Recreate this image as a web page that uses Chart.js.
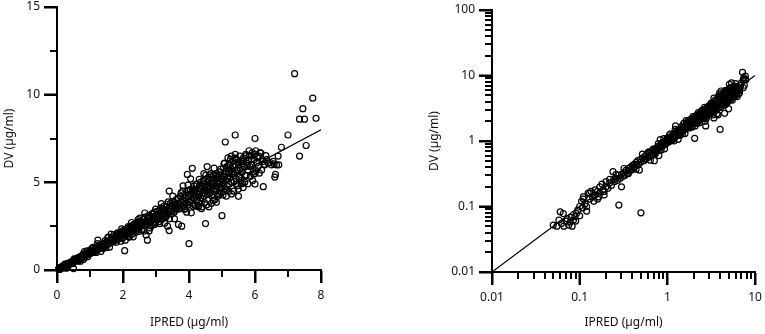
<!DOCTYPE html>
<html>
<head>
<meta charset="utf-8">
<script src="https://cdn.jsdelivr.net/npm/chart.js@4/dist/chart.umd.min.js"></script>
<style>
  html, body { margin: 0; padding: 0; background: #fff; }
  #wrap { position: relative; width: 765px; height: 334px; }
  canvas { position: absolute; top: 0; }
  #note { position: absolute; left: 342px; top: 120px; width: 56px; font: 9px sans-serif; color: #c00; }
</style>
</head>
<body>
<div id="wrap">
  <canvas id="linChart" width="340" height="334" style="left:0"></canvas>
  <canvas id="logChart" width="365" height="334" style="left:400px"></canvas>
  <canvas id="linTicks" width="340" height="334" style="left:0"></canvas>
  <canvas id="logTicks" width="365" height="334" style="left:400px"></canvas>
  <div id="note"></div>
</div>
<script>
const ipred = [
  0.05,0.055,0.058,0.06,0.062,0.065,0.066,0.07,0.072,0.075,
  0.078,0.08,0.082,0.085,0.088,0.09,0.092,0.095,0.1,0.1,
  0.105,0.108,0.11,0.115,0.12,0.125,0.13,0.135,0.14,0.145,
  0.15,0.16,0.165,0.17,0.18,0.185,0.19,0.2,0.21,0.22,
  0.23,0.24,0.245,0.25,0.26,0.27,0.28,0.28,0.29,0.3,
  0.3,0.31,0.32,0.33,0.34,0.35,0.36,0.37,0.38,0.39,
  0.4,0.41,0.42,0.43,0.44,0.45,0.46,0.47,0.48,0.49,
  0.5,0.5,0.52,0.54,0.55,0.57,0.58,0.6,0.62,0.63,
  0.65,0.66,0.68,0.7,0.71,0.72,0.74,0.75,0.77,0.78,
  0.8,0.8,0.82,0.83,0.84,0.86,0.88,0.9,0.92,0.94,
  0.95,0.97,0.98,1.0,1.02,1.04,1.05,1.07,1.08,1.1,
  1.12,1.14,1.15,1.17,1.18,1.2,1.22,1.24,1.25,1.27,
  1.28,1.3,1.32,1.34,1.35,1.37,1.38,1.4,1.42,1.44,
  1.45,1.47,1.48,1.5,1.52,1.54,1.55,1.57,1.58,1.6,
  1.62,1.64,1.65,1.67,1.68,1.7,1.72,1.74,1.75,1.77,
  1.78,1.8,1.82,1.84,1.85,1.87,1.88,1.9,1.92,1.94,
  1.95,1.97,1.98,2.0,2.02,2.04,2.05,2.06,2.08,2.1,
  2.12,2.14,2.15,2.17,2.18,2.2,2.22,2.24,2.25,2.27,
  2.28,2.3,2.32,2.34,2.35,2.37,2.38,2.4,2.42,2.44,
  2.45,2.47,2.48,2.5,2.52,2.54,2.55,2.57,2.58,2.6,
  2.62,2.64,2.65,2.67,2.7,2.72,2.74,2.75,2.77,2.78,
  2.8,2.82,2.84,2.85,2.87,2.88,2.9,2.92,2.94,2.95,
  2.97,2.98,3.0,3.02,3.04,3.05,3.07,3.08,3.1,3.12,
  3.14,3.15,3.17,3.18,3.2,3.22,3.24,3.25,3.27,3.28,
  3.3,3.32,3.34,3.35,3.36,3.38,3.4,3.4,3.42,3.44,
  3.45,3.47,3.48,3.5,3.52,3.54,3.55,3.57,3.58,3.6,
  3.62,3.64,3.65,3.67,3.68,3.7,3.72,3.74,3.75,3.77,
  3.78,3.8,3.82,3.84,3.85,3.87,3.88,3.9,3.92,3.94,
  3.95,3.96,3.98,4.0,4.0,4.02,4.04,4.05,4.06,4.08,
  4.1,4.1,4.12,4.14,4.15,4.17,4.18,4.2,4.22,4.24,
  4.25,4.27,4.28,4.3,4.32,4.34,4.35,4.37,4.38,4.4,
  4.42,4.44,4.45,4.46,4.48,4.5,4.5,4.52,4.54,4.55,
  4.56,4.58,4.6,4.6,4.62,4.64,4.65,4.67,4.68,4.7,
  4.72,4.74,4.75,4.77,4.78,4.8,4.82,4.84,4.85,4.87,
  4.88,4.9,4.92,4.94,4.95,4.97,4.98,5.0,5.0,5.02,
  5.04,5.05,5.07,5.08,5.1,5.1,5.12,5.14,5.15,5.17,
  5.18,5.2,5.22,5.24,5.25,5.27,5.28,5.3,5.32,5.34,
  5.35,5.37,5.38,5.4,5.4,5.42,5.44,5.45,5.47,5.48,
  5.5,5.5,5.52,5.54,5.55,5.57,5.6,5.62,5.64,5.65,
  5.68,5.7,5.72,5.75,5.78,5.8,5.82,5.85,5.88,5.9,
  5.92,5.95,5.98,6.0,6.0,6.0,6.02,6.05,6.1,6.12,
  6.15,6.2,6.22,6.25,6.25,6.3,6.35,6.4,6.5,6.55,
  6.6,6.62,6.65,6.7,6.72,6.8,7.0,7.2,7.35,7.35,
  7.45,7.5,7.55,7.75,7.85,
  // second pass through the dense band
  0.11,0.12,0.13,0.15,0.16,0.17,0.19,0.2,0.22,0.26,
  0.32,0.36,0.41,0.44,0.52,0.56,0.61,0.64,0.69,0.73,
  0.76,0.79,0.85,0.87,0.91,0.93,0.96,0.99,1.03,1.06,
  1.09,1.13,1.16,1.19,1.23,1.26,1.29,1.33,1.36,1.39,
  1.43,1.46,1.49,1.53,1.56,1.59,1.63,1.66,1.69,1.73,
  1.76,1.79,1.83,1.86,1.89,1.93,1.96,1.99,2.03,2.07,
  2.11,2.16,2.19,2.23,2.26,2.31,2.36,2.39,2.43,2.46,
  2.51,2.56,2.59,2.63,2.66,2.71,2.76,2.79,2.83,2.86,
  2.91,2.96,2.99,3.03,3.06,3.11,3.16,3.19,3.23,3.26,
  3.31,3.37,3.41,3.46,3.51,3.56,3.61,3.66,3.71,3.76,
  3.81,3.86,3.91,3.93,3.97,4.01,4.03,4.07,4.11,4.13,
  4.16,4.19,4.21,4.23,4.26,4.29,4.31,4.33,4.36,4.39,
  4.41,4.43,4.47,4.49,4.51,4.53,4.57,4.59,4.61,4.63,
  4.66,4.69,4.71,4.73,4.76,4.79,4.81,4.83,4.86,4.89,
  4.91,4.93,4.96,4.99,5.01,5.03,5.06,5.09,5.11,5.13,
  5.16,5.19,5.21,5.23,5.26,5.29,5.31,5.33,5.36,5.39,
  5.41,5.43,5.46,5.49,5.51,5.53,5.56,5.58,5.61,5.63,
  5.66,5.69,5.71,5.74,5.77,5.79,5.83,5.86,5.89,5.93,
  5.96,5.99,6.03,6.08,6.13,6.18,6.28,6.33,6.45,6.58
];
const dv = [
  0.052,0.05,0.062,0.083,0.055,0.078,0.05,0.06,0.065,0.052,
  0.058,0.068,0.05,0.062,0.07,0.06,0.078,0.088,0.072,0.1,
  0.12,0.095,0.13,0.11,0.085,0.16,0.13,0.17,0.14,0.12,
  0.15,0.17,0.14,0.16,0.22,0.18,0.17,0.2,0.19,0.23,
  0.21,0.34,0.26,0.24,0.27,0.25,0.105,0.3,0.27,0.2,
  0.31,0.29,0.33,0.3,0.36,0.32,0.38,0.35,0.4,0.36,
  0.42,0.38,0.44,0.41,0.47,0.43,0.5,0.44,0.36,0.52,
  0.08,0.48,0.55,0.5,0.58,0.53,0.62,0.56,0.66,0.6,
  0.68,0.62,0.72,0.65,0.5,0.75,0.7,0.78,0.72,0.82,
  0.6,0.76,0.85,1.05,0.8,0.9,0.84,0.95,0.88,0.98,
  0.9,1.0,0.93,1.05,0.96,1.1,0.98,1.12,1.02,1.15,
  1.05,1.2,1.08,1.25,1.1,1.3,1.15,1.7,1.2,1.32,
  1.22,1.38,1.25,1.4,1.3,1.45,1.32,1.5,1.36,1.52,
  1.4,1.55,1.42,1.6,1.45,1.85,1.5,1.65,1.52,1.7,
  1.55,2.05,1.6,1.75,1.62,1.8,1.65,1.85,1.7,1.9,
  1.72,1.95,1.75,2.0,1.8,2.05,1.82,2.1,1.85,2.15,
  1.9,2.2,1.92,2.1,1.95,2.3,1.1,2.0,2.25,2.05,
  2.35,2.1,2.4,2.15,1.9,2.3,2.45,2.2,2.5,2.25,
  2.05,2.4,2.6,2.3,2.55,2.35,2.15,2.5,2.7,2.4,
  2.65,2.45,2.2,2.6,2.8,2.5,2.75,2.55,2.3,2.7,
  2.9,2.6,3.0,2.65,2.0,2.8,1.7,2.95,2.7,3.1,
  2.75,2.4,3.0,2.8,3.2,2.85,2.6,3.05,2.9,3.3,
  2.95,2.7,3.1,2.85,3.35,3.0,3.2,2.75,3.4,3.1,
  3.55,3.05,3.3,2.9,3.5,3.2,3.65,3.1,3.4,3.0,
  3.6,3.3,3.75,2.5,3.2,3.5,4.5,2.25,3.35,3.8,
  3.5,3.2,3.65,3.9,3.4,3.7,3.3,3.85,3.55,4.0,
  3.45,3.8,3.6,4.1,2.6,3.75,3.5,4.2,3.85,3.6,
  2.5,4.0,4.8,3.7,4.3,3.9,3.5,4.1,3.8,4.5,
  5.45,3.7,4.2,1.5,4.3,3.9,4.6,5.2,4.0,4.4,
  5.8,3.8,4.5,4.1,4.8,4.3,3.7,4.6,4.2,4.9,
  4.0,4.5,3.6,4.7,4.3,5.0,4.1,4.6,3.5,4.8,
  4.4,5.1,5.5,4.2,4.7,4.9,2.65,4.5,5.2,5.9,
  4.3,4.8,3.6,5.0,4.6,5.3,4.4,4.9,3.8,5.1,
  4.7,5.4,4.5,5.0,4.0,5.2,4.8,5.5,4.6,5.1,
  4.2,5.3,4.9,5.6,4.7,5.2,4.4,3.1,5.4,5.0,
  5.8,4.8,5.3,6.1,7.3,5.1,5.6,4.6,5.9,5.2,
  6.4,5.5,4.9,6.0,5.3,5.8,6.5,5.0,5.6,6.2,
  4.5,5.4,5.9,7.7,6.6,5.2,5.7,6.3,4.8,5.5,
  4.2,6.0,5.3,6.5,5.8,5.1,6.2,5.6,4.7,6.4,
  5.9,5.4,6.6,6.1,5.7,6.3,6.8,5.9,6.5,6.0,
  6.7,5.6,6.3,7.5,4.9,5.5,6.8,6.1,5.9,6.5,
  6.7,5.7,6.3,4.75,6.2,6.0,6.3,6.1,6.0,6.2,
  5.3,5.45,6.0,6.5,6.0,7.0,7.7,11.2,6.5,8.6,
  9.2,8.6,7.1,9.8,8.65,
  // second pass through the dense band
  0.14,0.1,0.16,0.18,0.13,0.2,0.15,0.24,0.26,0.31,
  0.38,0.32,0.43,0.37,0.63,0.54,0.68,0.51,0.75,0.64,
  0.7,0.91,0.73,0.92,1.09,0.76,0.99,1.1,0.97,1.24,
  1.29,1.02,1.22,1.0,1.5,1.21,1.44,1.06,1.47,1.22,
  1.32,1.68,1.28,1.62,1.87,1.3,1.68,1.84,1.59,2.02,
  1.94,1.58,2.12,1.75,1.95,1.64,2.35,1.81,2.17,1.7,
  1.94,2.48,1.88,2.36,2.71,1.89,2.43,2.65,2.28,2.88,
  2.96,2.3,2.72,2.21,3.25,2.6,3.09,2.23,3.06,2.52,
  3.2,2.6,3.47,2.85,3.15,2.64,3.79,2.9,3.46,2.67,
  3.05,3.88,2.93,3.67,4.21,2.92,3.72,4.06,3.49,4.4,
  4.5,3.47,4.11,3.3,4.84,3.85,4.51,3.26,4.44,3.63,
  4.58,3.69,4.88,3.98,4.39,3.65,5.17,3.94,4.67,3.6,
  4.06,5.09,3.84,4.76,5.41,3.71,4.71,5.09,4.33,5.42,
  5.5,4.22,4.95,3.97,5.81,4.6,5.39,3.86,5.25,4.3,
  5.4,4.34,5.75,4.69,5.16,4.28,6.07,4.63,5.47,4.21,
  4.75,5.97,4.48,5.54,6.31,4.34,5.47,5.92,5.04,6.31,
  6.38,4.89,5.73,4.61,6.17,5.31,6.23,4.91,6.06,4.95,
  6.23,5.01,6.51,5.4,5.94,4.92,6.53,5.33,6.3,5.1,
  5.48,6.59,5.67,6.44,5.52,6.67,6.03,6.52,6.13,6.05
];

// line of identity, ends on each panel
const unityLin = [0, 8];
const unityLog = [0.01, 10];

// axis ticks
const linXTicks = [0, 2, 4, 6, 8];
const linXMinor = [1, 3, 5, 7];
const linYTicks = [0, 5, 10, 15];
const linYMinor = [2.5, 7.5, 12.5];
const logXTicks = [0.01, 0.1, 1, 10];
const logYTicks = [0.01, 0.1, 1, 10, 100];

const xTitle = 'IPRED (µg/ml)';
const yTitle = 'DV (µg/ml)';

function minorLog(majors) {
  const out = [];
  majors.slice(0, -1).forEach(d => {
    for (let k = 2; k <= 9; k++) out.push(+(k * d).toPrecision(3));
  });
  return out;
}

Chart.defaults.font.family = '"Noto Sans", "Open Sans", sans-serif';
Chart.defaults.font.size = 12;
Chart.defaults.color = '#111';

const TICK = 13;   // major tick length
const MINOR = 7;   // minor tick length
const note = document.getElementById('note');

// tick marks on a transparent canvas laid over the chart, placed with the chart's scales
function drawTicks(chart, overlayId, m) {
  const octx = document.getElementById(overlayId).getContext('2d');
  const a = chart.chartArea;
  const sx = chart.scales.x, sy = chart.scales.y;
  octx.fillStyle = '#000';
  const xTick = (v, len) => {
    const p = Math.round(sx.getPixelForValue(v));
    octx.fillRect(p - 1, Math.round(a.bottom), 2, len);
  };
  const yTick = (v, len) => {
    const p = Math.round(sy.getPixelForValue(v));
    octx.fillRect(Math.round(a.left) - len, p - 1, len, 2);
  };
  m.xMajor.forEach(v => xTick(v, TICK));
  m.xMinor.forEach(v => xTick(v, MINOR));
  m.yMajor.forEach(v => yTick(v, TICK));
  m.yMinor.forEach(v => yTick(v, MINOR));

  // check that a major tick really landed on both canvases
  const px = Math.round(sx.getPixelForValue(m.xMajor[1]));
  const py = Math.round(a.bottom) + 8;
  const o = octx.getImageData(px, py, 1, 1).data[3];
  const c = chart.ctx.getImageData(px, py, 1, 1).data[3];
  if (!o || !c) note.textContent += ' ' + overlayId + ' o' + o + ' c' + c + ' p' + px + ',' + py;
}

function makeChart(id, cfg) {
  const pts = ipred.map((x, i) => ({ x: x, y: dv[i] }));
  const line = cfg.unity.map(v => ({ x: v, y: v }));

  const axis = (type, min, max, majors, titleText, fitSize, horizontal) => ({
    type: type,
    min: min,
    max: max,
    grid: {
      display: true,
      drawOnChartArea: false,
      drawTicks: true,
      tickLength: TICK,
      tickWidth: 2,
      tickColor: '#000'
    },
    border: { display: true, color: '#000', width: 2 },
    afterBuildTicks: s => { s.ticks = majors.map(v => ({ value: v })); },
    afterFit: s => {
      if (horizontal) s.height = fitSize; else s.width = fitSize;
      // keep the label overhang from shrinking the plot area
      s.paddingTop = 0; s.paddingBottom = 0; s.paddingLeft = 0; s.paddingRight = 0;
    },
    ticks: {
      padding: horizontal ? 5 : 4,
      autoSkip: false,
      maxRotation: 0,
      callback: v => String(v)
    },
    title: {
      display: true,
      text: titleText,
      font: { size: 12 },
      padding: horizontal ? { top: 0, bottom: 4 } : { top: 2, bottom: 0 }
    }
  });

  return new Chart(document.getElementById(id), {
    type: 'scatter',
    data: {
      datasets: [
        {
          data: pts,
          pointRadius: 3,
          pointBorderWidth: 1.2,
          pointBorderColor: '#000',
          pointBackgroundColor: 'rgba(0,0,0,0)',
          clip: false
        },
        {
          type: 'line',
          data: line,
          borderColor: '#000',
          borderWidth: 1.2,
          pointRadius: 0,
          fill: false
        }
      ]
    },
    options: {
      responsive: false,
      animation: false,
      events: [],
      layout: { padding: cfg.padding },
      plugins: {
        legend: { display: false },
        tooltip: { enabled: false }
      },
      scales: {
        x: axis(cfg.type, cfg.xMin, cfg.xMax, cfg.xTicks, xTitle, cfg.xHeight, true),
        y: axis(cfg.type, cfg.yMin, cfg.yMax, cfg.yTicks, yTitle, cfg.yWidth, false)
      }
    }
  });
}

try {
  const linChart = makeChart('linChart', {
    type: 'linear',
    xMin: 0, xMax: 8, yMin: 0, yMax: 15,
    xTicks: linXTicks, yTicks: linYTicks,
    unity: unityLin,
    padding: { left: 0, top: 7, right: 19, bottom: 0 },
    xHeight: 64, yWidth: 57
  });
  drawTicks(linChart, 'linTicks', { xMajor: linXTicks, xMinor: linXMinor, yMajor: linYTicks, yMinor: linYMinor });

  const logChart = makeChart('logChart', {
    type: 'logarithmic',
    xMin: 0.01, xMax: 10, yMin: 0.01, yMax: 100,
    xTicks: logXTicks, yTicks: logYTicks,
    unity: unityLog,
    padding: { left: 25, top: 10, right: 10, bottom: 0 },
    xHeight: 62, yWidth: 67
  });
  drawTicks(logChart, 'logTicks', { xMajor: logXTicks, xMinor: minorLog(logXTicks), yMajor: logYTicks, yMinor: minorLog(logYTicks) });
} catch (e) {
  note.textContent += ' ERR ' + e.message;
}
</script>
</body>
</html>
